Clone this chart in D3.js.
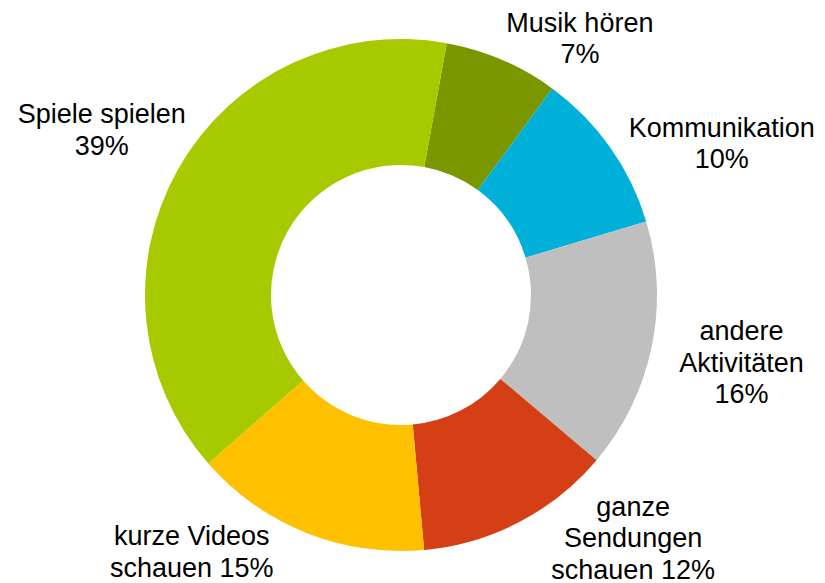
<!DOCTYPE html>
<html>
<head>
<meta charset="utf-8">
<script src="https://cdn.jsdelivr.net/npm/d3@7"></script>
<style>
  html, body { margin: 0; padding: 0; background: #fff; }
  svg text { font-family: "Liberation Sans", Arial, sans-serif; font-size: 27px; fill: #000; }
</style>
</head>
<body>
<svg id="chart" width="825" height="583"></svg>
<script>
// values (shares in percent)
const categories = ["Musik hören", "Kommunikation", "andere Aktivitäten", "ganze Sendungen schauen", "kurze Videos schauen", "Spiele spielen"];
const labelLines = [["Musik hören"], ["Kommunikation"], ["andere", "Aktivitäten"], ["ganze", "Sendungen", "schauen"], ["kurze Videos", "schauen"], ["Spiele spielen"]];
const shares = [7.2, 10.3, 15.8, 12.4, 15.0, 39.3];
const colors = ["#7A9700", "#00B0D9", "#BFBFBF", "#D43F15", "#FFC000", "#A7C900"];

// layout
const cx = 401, cy = 295, rOuter = 256, rInner = 130;
const start = 10.3 * Math.PI / 180;
const lineH = 31.5;
// label placement: [angle offset from slice middle (deg), distance from centre]
const labelNudge = [[11.6, 313], [9.9, 355], [-0.6, 347], [-16.2, 336], [17.4, 331], [-0.6, 342]];

const svg = d3.select("#chart");
const g = svg.append("g").attr("transform", `translate(${cx},${cy})`);

const pie = d3.pie().sort(null).value(d => d)
  .startAngle(start).endAngle(start + 2 * Math.PI);
const arcs = pie(shares);
const arc = d3.arc().innerRadius(rInner).outerRadius(rOuter);

g.selectAll("path.slice")
  .data(arcs)
  .join("path")
  .attr("class", "slice")
  .attr("d", arc)
  .attr("fill", (d, i) => colors[i]);

arcs.forEach((d, i) => {
  const mid = (d.startAngle + d.endAngle) / 2 + labelNudge[i][0] * Math.PI / 180;
  const r = labelNudge[i][1];
  const x = Math.sin(mid) * r;
  const y = -Math.cos(mid) * r;
  const lines = labelLines[i].slice();
  const pct = Math.round(d.data) + "%";
  // percent goes on the last line if it fits there, else on its own line
  if (lines.length > 1 && lines[lines.length - 1] === "schauen") {
    lines[lines.length - 1] += " " + pct;
  } else {
    lines.push(pct);
  }
  const t = g.append("text").attr("text-anchor", "middle");
  const y0 = y - (lines.length - 1) * lineH / 2 + 9.5;
  lines.forEach((ln, j) => {
    t.append("tspan").attr("x", x).attr("y", y0 + j * lineH).text(ln);
  });
});
</script>
</body>
</html>
